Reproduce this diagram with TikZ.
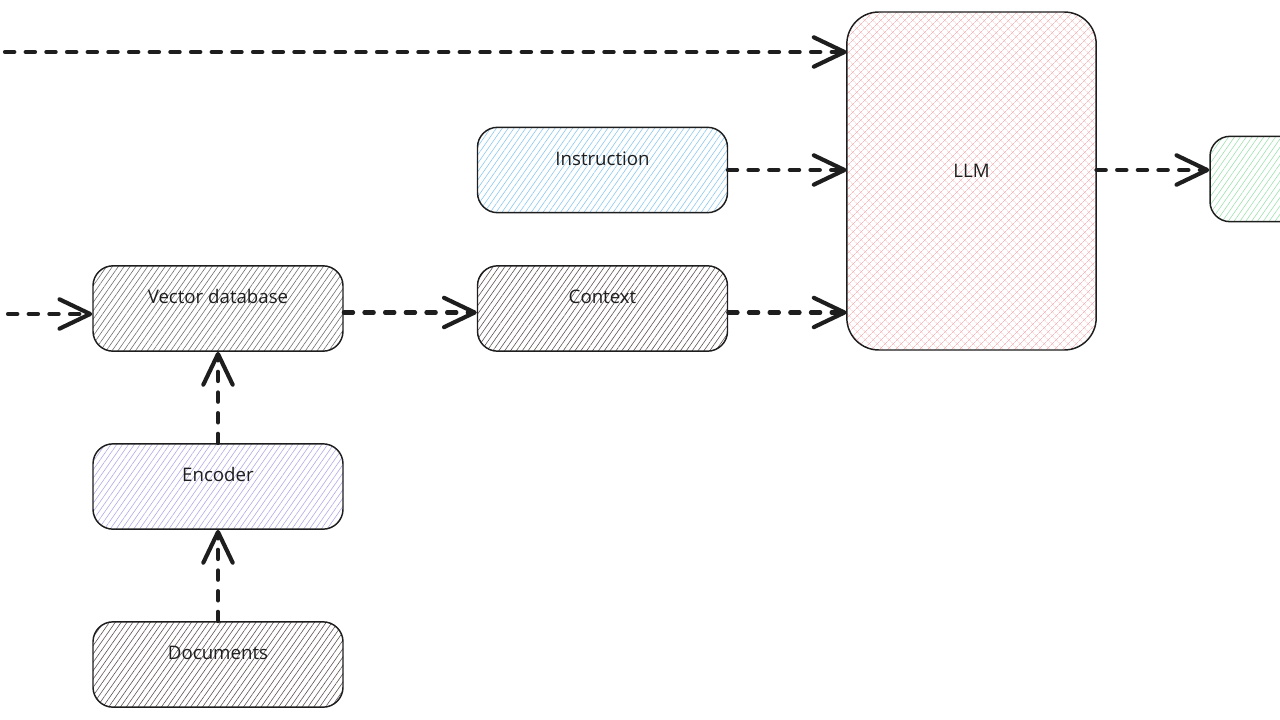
\documentclass[tikz,border=0pt]{standalone}
\usepackage{fontspec}
\setmainfont{Open Sans}
\usetikzlibrary{arrows.meta,patterns.meta}
\definecolor{ink}{HTML}{1E1E1E}
\definecolor{hblue}{HTML}{8CC8F0}
\definecolor{hgray}{HTML}{6E6E6E}
\definecolor{hbrown}{HTML}{5E5250}
\definecolor{hlav}{HTML}{B4A8E8}
\definecolor{hpink}{HTML}{F5B8BC}
\definecolor{hgreen}{HTML}{9EE0AE}
\tikzset{
  box/.style={draw=ink, line width=1.1pt, rounded corners=15pt,
    minimum width=187.5pt, minimum height=64pt, inner sep=0pt,
    font=\fontsize{14}{16}\selectfont, text=ink, text height=10pt, text depth=17pt},
  hatch/.style={pattern={Lines[angle=55,distance=3.6pt,line width=0.45pt]}, pattern color=#1},
  flow/.style={draw=ink, line width=3.1pt, line cap=round, dash pattern=on 7pt off 8.5pt,
    -{Straight Barb[length=23pt,width=22pt,line width=3.1pt,round]}}
}
\begin{document}
\begin{tikzpicture}[x=0.75pt,y=-0.75pt]
\useasboundingbox (0,0) rectangle (1280,720);
\clip (0,0) rectangle (1280,720);

\node[box, hatch=hblue] (inst) at (602.5,170) {Instruction};
\node[box, hatch=hgray] (vdb) at (218,308.5) {Vector database};
\node[box, hatch=hbrown] (ctx) at (602.5,308.5) {Context};
\node[box, hatch=hlav] (enc) at (218,486.5) {Encoder};
\node[box, hatch=hbrown] (doc) at (218,664.5) {Documents};
\node[box, rounded corners=24pt, minimum width=187pt, minimum height=253.5pt,
      text depth=15pt,
      pattern={Hatch[angle=45,distance=4pt,line width=0.4pt]}, pattern color=hpink] (llm) at (971.5,181) {LLM};
\node[box, hatch=hgreen] (out) at (1335,179) {};

\coordinate (topstart) at (5,52);
\coordinate (leftstart) at (8,314);

\draw[flow] (topstart) -- (topstart -| llm.west);
\draw[flow] (inst.east) -- (inst.east -| llm.west);
\draw[flow] ([yshift=-3pt]ctx.east) -- ([yshift=-3pt]ctx.east -| llm.west);
\draw[flow] (leftstart) -- (leftstart -| vdb.west);
\draw[flow] ([yshift=-3pt]vdb.east) -- ([yshift=-3pt]ctx.west);
\draw[flow] (enc.north) -- (vdb.south);
\draw[flow] (doc.north) -- (enc.south);
\draw[flow] (inst.east -| llm.east) -- (inst.east -| out.west);
\end{tikzpicture}
\end{document}
